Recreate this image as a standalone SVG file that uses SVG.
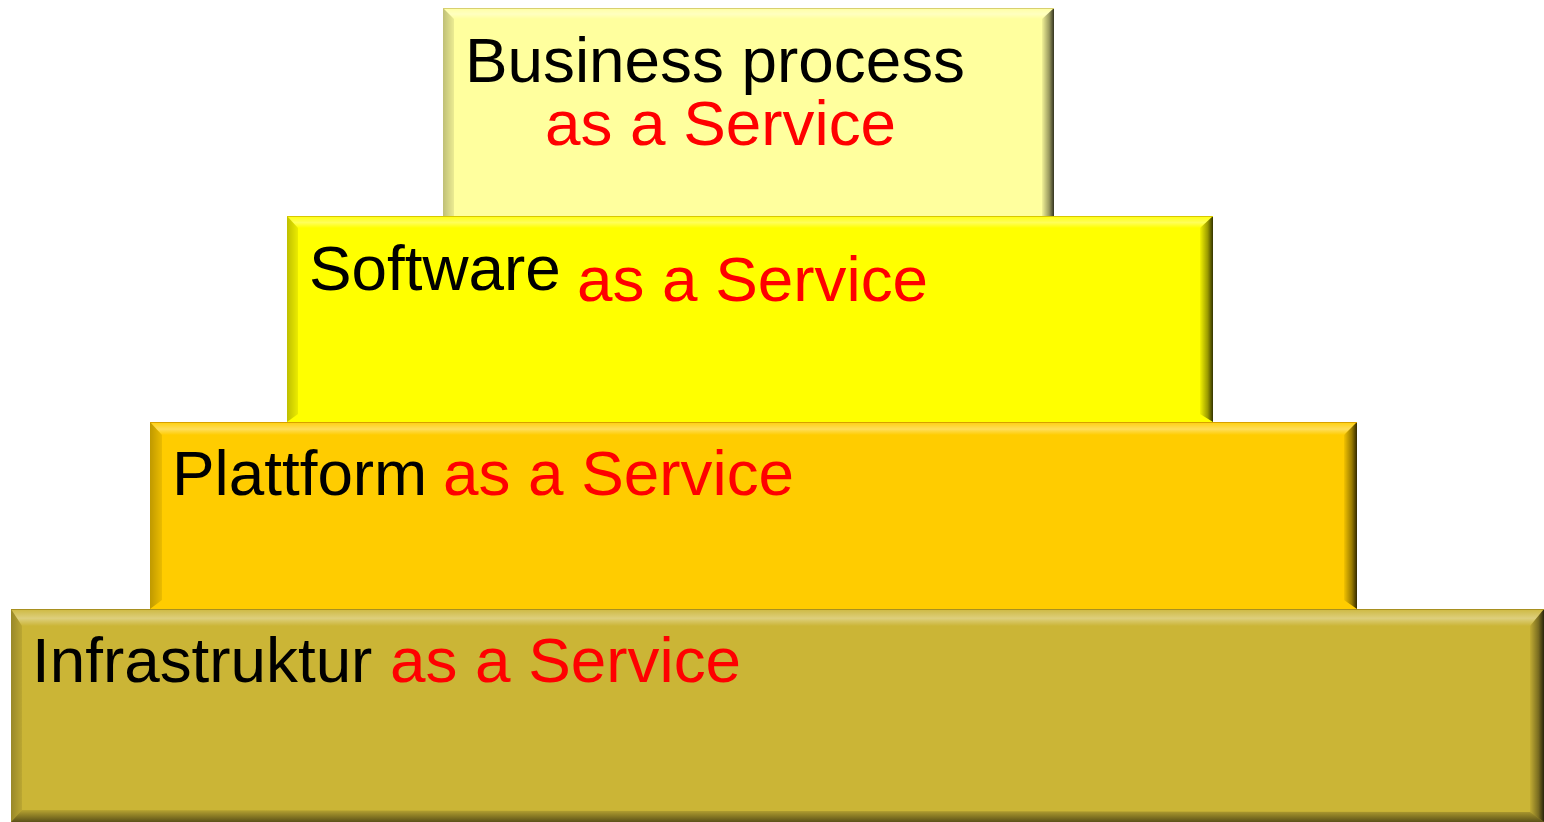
<svg xmlns="http://www.w3.org/2000/svg" width="1544" height="822" viewBox="0 0 1544 822">
<defs>
<linearGradient id="gTop" x1="0" y1="0" x2="0" y2="1">
<stop offset="0" stop-color="#fff" stop-opacity="0.05"/>
<stop offset="0.55" stop-color="#fff" stop-opacity="0.35"/>
<stop offset="1" stop-color="#fff" stop-opacity="0"/>
</linearGradient>
<linearGradient id="gLeft" x1="0" y1="0" x2="1" y2="0">
<stop offset="0" stop-color="#000" stop-opacity="0.25"/>
<stop offset="1" stop-color="#000" stop-opacity="0.08"/>
</linearGradient>
<linearGradient id="gRight" x1="0" y1="0" x2="1" y2="0">
<stop offset="0" stop-color="#000" stop-opacity="0.05"/>
<stop offset="0.6" stop-color="#000" stop-opacity="0.4"/>
<stop offset="1" stop-color="#000" stop-opacity="0.8"/>
</linearGradient>
<linearGradient id="gBottom" x1="0" y1="0" x2="0" y2="1">
<stop offset="0" stop-color="#000" stop-opacity="0.1"/>
<stop offset="1" stop-color="#000" stop-opacity="0.55"/>
</linearGradient>
</defs>
<style>
.t{font-family:"Liberation Sans",Arial,sans-serif;font-size:63.8px}
.k{fill:#000}
.r{fill:#ff0000}
.tp{fill:url(#gTop)}
.lf{fill:url(#gLeft)}
.rt{fill:url(#gRight)}
.bt{fill:url(#gBottom)}
</style>
<g id="business">
<rect x="443" y="8" width="611" height="218" fill="#ffff9e"/>
<polygon class="tp" points="443,8 1054,8 1043,19 454,19"/>
<polygon class="lf" points="443,8 454,19 454,216 443,226"/>
<polygon class="rt" points="1054,8 1054,226 1042,216 1042,19"/>
<rect x="443" y="8" width="611" height="1" fill="#d8d070"/>
<text class="t k" x="465" y="82">Business process</text>
<text class="t r" x="545" y="145">as a Service</text>
</g>
<g id="software">
<rect x="287" y="216" width="926" height="206" fill="#ffff00"/>
<polygon class="tp" points="287,216 1213,216 1200,228 298,228"/>
<polygon class="lf" points="287,216 298,228 298,414 287,422"/>
<polygon class="rt" points="1213,216 1213,422 1200,414 1200,228"/>
<rect x="287" y="216" width="926" height="1" fill="#d8c800"/>
<text class="t k" x="309" y="290">Software</text>
<text class="t r" x="577" y="301">as a Service</text>
</g>
<g id="plattform">
<rect x="150" y="422" width="1207" height="187" fill="#ffcc00"/>
<polygon class="tp" points="150,422 1357,422 1344,435 162,435"/>
<polygon class="lf" points="150,422 162,435 162,600 150,609"/>
<polygon class="rt" points="1357,422 1357,609 1344,600 1344,435"/>
<rect x="150" y="422" width="1207" height="1" fill="#d8a000"/>
<text class="t k" x="172" y="495">Plattform</text>
<text class="t r" x="443" y="495">as a Service</text>
</g>
<g id="infrastruktur">
<rect x="11" y="609" width="1533" height="213" fill="#cbb536"/>
<polygon class="tp" points="11,609 1544,609 1530,626 22,626"/>
<polygon class="lf" points="11,609 22,626 22,810 11,822"/>
<polygon class="rt" points="1544,609 1544,822 1530,812 1530,626"/>
<polygon class="bt" points="22,810 1530,812 1544,822 11,822"/>
<rect x="11" y="609" width="1533" height="1" fill="#a89020"/>
<text class="t k" x="32" y="682">Infrastruktur</text>
<text class="t r" x="390" y="682">as a Service</text>
</g>
<g id="connectors"/>
</svg>
